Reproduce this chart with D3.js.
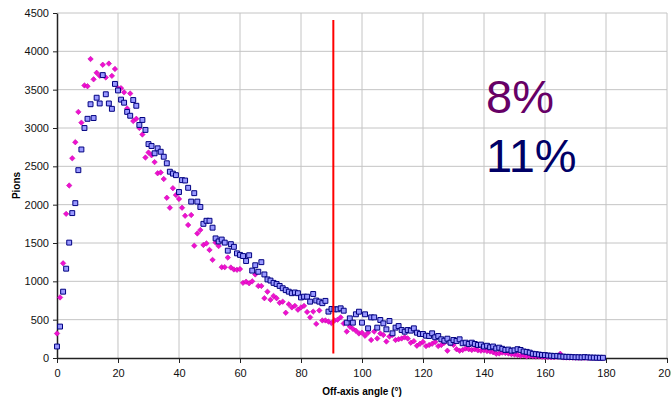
<!DOCTYPE html>
<html>
<head>
<meta charset="utf-8">
<script src="https://cdn.jsdelivr.net/npm/d3@7"></script>
<style>
    body { margin: 0; background: #fff; }
    svg text { font-family: Arial, "Liberation Sans", sans-serif; }
</style>
</head>
<body>
<div id="chart"></div>
<script>
// pions per degree of off-axis angle, 0..179
const blueCounts = [
    150, 410, 865, 1165, 1505, 1890, 2020, 2450, 2720, 3000,
    3120, 3310, 3130, 3395, 3320, 3690, 3440, 3320, 3250, 3575,
    3490, 3370, 3330, 3210, 3160, 3365, 3290, 3040, 3105, 2975,
    2790, 2765, 2670, 2735, 2690, 2625, 2540, 2430, 2405, 2385,
    2165, 2320, 2315, 2220, 2040, 2150, 2040, 1970, 1750, 1790,
    1790, 1700, 1560, 1520, 1545, 1505, 1400, 1485, 1450, 1365,
    1345, 1330, 1265, 1340, 1140, 1210, 1125, 1250, 1090, 1025,
    1010, 980, 965, 940, 910, 885, 865, 845, 855, 845,
    790, 800, 800, 735, 835, 750, 735, 715, 745, 605,
    640, 635, 635, 648, 617, 461, 517, 461, 570, 604,
    461, 570, 387, 530, 530, 396, 496, 452, 374, 483,
    322, 396, 417, 365, 343, 365, 357, 387, 330, 313,
    313, 291, 287, 322, 270, 287, 244, 226, 252, 200,
    235, 222, 244, 192, 200, 183, 200, 183, 170, 175,
    150, 160, 140, 150, 125, 135, 120, 105, 110, 95,
    100, 115, 105, 85, 80, 70, 55, 50, 45, 40,
    38, 32, 30, 25, 28, 20, 18, 15, 15, 12,
    10, 10, 8, 12, 8, 6, 5, 4, 3, 3
];

const magentaCounts = [
    320, 790, 1235, 1880, 2250, 2605, 2815, 3210, 3070, 3555,
    3545, 3900, 3635, 3720, 3680, 3825, 3660, 3840, 3680, 3770,
    3520, 3520, 3465, 3255, 3450, 3090, 3120, 3000, 2915, 2615,
    2680, 2645, 2555, 2410, 2420, 2335, 2090, 1960, 2215, 2125,
    2075, 1960, 1855, 1735, 1865, 1465, 1625, 1670, 1475, 1495,
    1410, 1280, 1505, 1460, 1185, 1185, 1310, 1180, 1155, 1150,
    1160, 980, 995, 975, 1000, 1090, 940, 940, 780, 865,
    760, 810, 780, 720, 735, 590, 700, 660, 680, 630,
    660, 680, 600, 530, 605, 445, 620, 490, 490, 475,
    455, 490, 500, 530, 450, 345, 410, 380, 355, 320,
    330, 290, 330, 235, 345, 255, 320, 300, 215, 280,
    300, 235, 245, 255, 270, 255, 200, 220, 160, 185,
    210, 155, 170, 185, 210, 155, 170, 200, 95, 190,
    170, 115, 95, 105, 125, 115, 105, 115, 100, 95,
    100, 90, 85, 75, 55, 60, 70, 65, 60, 50,
    45, 40, 28, 35, 20, 25, 22, 18, 20, 15,
    14, 12, 10, 10, 15, 55, 8, 6, 5, 5,
    4, 3, 3, 2, 2, 2, 2, 1, 1, 1
];

const xTicks = [0, 20, 40, 60, 80, 100, 120, 140, 160, 180, 200];
const yTicks = [0, 500, 1000, 1500, 2000, 2500, 3000, 3500, 4000, 4500];

const cutAngle = 90.6;
const cutRange = [60, 4410];

const shares = [
    { label: '8%', color: '#660066' },
    { label: '11%', color: '#000066' }
];

const W = 671, H = 401;
const margin = { top: 13, right: 4, bottom: 43, left: 57 };

const svg = d3.select('#chart').append('svg')
    .attr('width', W)
    .attr('height', H);

const x = d3.scaleLinear().domain([0, 200]).range([margin.left, W - margin.right]);
const y = d3.scaleLinear().domain([0, 4500]).range([H - margin.bottom, margin.top]);

// grid
svg.append('g')
    .selectAll('line')
    .data(xTicks.slice(1))
    .enter()
    .append('line')
    .attr('x1', d => x(d)).attr('x2', d => x(d))
    .attr('y1', y(0)).attr('y2', y(4500))
    .attr('stroke', '#c4c4c4');

svg.append('g')
    .selectAll('line')
    .data(yTicks.slice(1))
    .enter()
    .append('line')
    .attr('x1', x(0)).attr('x2', x(200))
    .attr('y1', d => y(d)).attr('y2', d => y(d))
    .attr('stroke', '#c4c4c4');

// axes
const xAxis = svg.append('g')
    .attr('transform', `translate(0,${y(0)})`)
    .call(d3.axisBottom(x).tickValues(xTicks).tickFormat(d3.format('d'))
        .tickSize(5).tickSizeOuter(0).tickPadding(6));

const yAxis = svg.append('g')
    .attr('transform', `translate(${x(0)},0)`)
    .call(d3.axisLeft(y).tickValues(yTicks).tickFormat(d3.format('d'))
        .tickSize(4).tickSizeOuter(0).tickPadding(4));

[xAxis, yAxis].forEach(a => {
    a.select('.domain').attr('stroke', '#222').attr('stroke-width', 1.5);
    a.selectAll('.tick line').attr('stroke', '#222');
    a.selectAll('text')
        .style('font-family', 'Arial, "Liberation Sans", sans-serif')
        .style('font-size', '11px')
        .attr('fill', '#111');
});

svg.append('text')
    .attr('x', (x(0) + x(200)) / 2)
    .attr('y', 395)
    .attr('text-anchor', 'middle')
    .style('font-size', '10px')
    .style('font-weight', 'bold')
    .text('Off-axis angle (°)');

svg.append('text')
    .attr('transform', `translate(20,${(y(0) + y(4500)) / 2}) rotate(-90)`)
    .attr('text-anchor', 'middle')
    .style('font-size', '10px')
    .style('font-weight', 'bold')
    .text('Pions');

// series: magenta diamonds under blue squares
const diamond = d3.symbol(d3.symbolSquare, 15);
svg.append('g')
    .selectAll('path')
    .data(magentaCounts)
    .enter()
    .append('path')
    .attr('d', diamond)
    .attr('transform', (d, i) => `translate(${x(i)},${y(d)}) rotate(45)`)
    .attr('fill', '#f010d0')
    .attr('stroke', '#c000a8')
    .attr('stroke-width', 0.5);

const square = d3.symbol(d3.symbolSquare, 24);
svg.append('g')
    .selectAll('path')
    .data(blueCounts)
    .enter()
    .append('path')
    .attr('d', square)
    .attr('transform', (d, i) => `translate(${x(i)},${y(d)})`)
    .attr('fill', '#9999ff')
    .attr('stroke', '#000080')
    .attr('stroke-width', 1);

// cut line
svg.append('line')
    .attr('x1', x(cutAngle)).attr('x2', x(cutAngle))
    .attr('y1', y(cutRange[1])).attr('y2', y(cutRange[0]))
    .attr('stroke', '#ff0000')
    .attr('stroke-width', 2);

// percentages
svg.append('g')
    .selectAll('text')
    .data(shares)
    .enter()
    .append('text')
    .attr('x', 486)
    .attr('y', (d, i) => 113 + i * 59)
    .attr('fill', d => d.color)
    .style('font-size', '47px')
    .text(d => d.label);
</script>
</body>
</html>
